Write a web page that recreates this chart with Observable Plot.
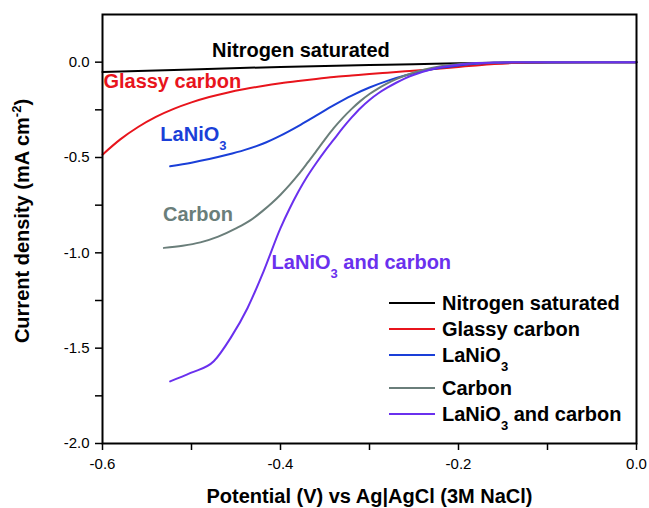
<!DOCTYPE html>
<html>
<head>
<meta charset="utf-8">
<script src="https://cdn.jsdelivr.net/npm/d3@7"></script>
<script src="https://cdn.jsdelivr.net/npm/@observablehq/plot@0.6"></script>
<style>
  html, body { margin: 0; padding: 0; background: #fff; }
  #chart { position: relative; width: 649px; height: 508px; }
  svg { font-family: "Liberation Sans", Arial, sans-serif; }
</style>
</head>
<body>
<div id="chart"></div>
<script>
// ---- Data ----
const seriesNames = ["Nitrogen saturated", "Glassy carbon", "LaNiO3", "Carbon", "LaNiO3 and carbon"];
const seriesColors = ["#000000", "#e8141c", "#1a3fd8", "#6a7e7a", "#6a30ee"];

const nitrogenX = [-0.6, -0.5, -0.4, -0.3, -0.25, -0.2, -0.1, 0.0];
const nitrogenY = [-0.052, -0.038, -0.025, -0.015, -0.011, -0.006, -0.002, 0.0];

const glassyX = [-0.6, -0.58, -0.56, -0.54, -0.52, -0.50, -0.48, -0.46, -0.44, -0.42, -0.40, -0.38, -0.36, -0.34, -0.32, -0.30, -0.28, -0.26, -0.24, -0.22, -0.20, -0.18, -0.16, -0.14, -0.12, -0.10, 0.0];
const glassyY = [-0.485, -0.405, -0.34, -0.287, -0.245, -0.211, -0.183, -0.16, -0.141, -0.125, -0.111, -0.099, -0.088, -0.078, -0.07, -0.062, -0.055, -0.048, -0.041, -0.033, -0.025, -0.017, -0.01, -0.005, -0.002, 0.0, 0.0];

const lanioX = [-0.524, -0.50, -0.48, -0.46, -0.44, -0.42, -0.40, -0.38, -0.36, -0.34, -0.32, -0.30, -0.28, -0.26, -0.24, -0.22, -0.20, -0.18, -0.16, -0.14, -0.12, 0.0];
const lanioY = [-0.546, -0.527, -0.508, -0.486, -0.46, -0.428, -0.385, -0.335, -0.28, -0.225, -0.175, -0.133, -0.098, -0.07, -0.047, -0.03, -0.017, -0.008, -0.003, -0.001, 0.0, 0.0];

const carbonX = [-0.531, -0.51, -0.49, -0.47, -0.45, -0.434, -0.42, -0.41, -0.40, -0.39, -0.38, -0.37, -0.36, -0.35, -0.34, -0.33, -0.32, -0.31, -0.30, -0.29, -0.28, -0.27, -0.26, -0.25, -0.24, -0.22, -0.20, -0.18, -0.15, -0.12, 0.0];
const carbonY = [-0.974, -0.963, -0.945, -0.915, -0.872, -0.83, -0.78, -0.74, -0.695, -0.645, -0.59, -0.53, -0.468, -0.405, -0.345, -0.292, -0.245, -0.203, -0.167, -0.137, -0.111, -0.089, -0.07, -0.054, -0.041, -0.022, -0.011, -0.004, -0.001, 0.0, 0.0];

const mixX = [-0.524, -0.501, -0.475, -0.456, -0.437, -0.419, -0.40, -0.39, -0.38, -0.37, -0.36, -0.35, -0.34, -0.33, -0.32, -0.31, -0.30, -0.29, -0.28, -0.27, -0.26, -0.25, -0.24, -0.23, -0.22, -0.20, -0.18, -0.16, -0.14, 0.0];
const mixY = [-1.674, -1.630, -1.569, -1.446, -1.289, -1.097, -0.87, -0.77, -0.68, -0.60, -0.53, -0.465, -0.405, -0.345, -0.29, -0.24, -0.198, -0.163, -0.134, -0.108, -0.085, -0.066, -0.05, -0.037, -0.027, -0.013, -0.005, -0.002, 0.0, 0.0];

const xMajorTicks = [-0.6, -0.4, -0.2, 0.0];
const xMinorTicks = [-0.5, -0.3, -0.1];
const yMajorTicks = [-2.0, -1.5, -1.0, -0.5, 0.0];
const yMinorTicks = [-1.75, -1.25, -0.75, -0.25];

// curve annotation labels
const labelText = ["Nitrogen saturated", "Glassy carbon", "LaNiO3", "Carbon", "LaNiO3 and carbon"];
const labelX = [-0.477, -0.599, -0.535, -0.532, -0.410];
const labelY = [0.063, -0.10, -0.378, -0.80, -1.053];

const xLabel = "Potential (V) vs Ag|AgCl (3M NaCl)";
const yLabel = "Current density (mA cm-2)";

// ---- Build tidy table ----
const pairs = [[nitrogenX, nitrogenY], [glassyX, glassyY], [lanioX, lanioY], [carbonX, carbonY], [mixX, mixY]];
const rows = [];
pairs.forEach(([xs, ys], i) => xs.forEach((x, j) => rows.push({series: seriesNames[i], x, y: ys[j]})));
const labels = labelText.map((t, i) => ({t, x: labelX[i], y: labelY[i], c: seriesColors[i]}));

const fmt = d => d.toFixed(1);

const plot = Plot.plot({
  width: 649,
  height: 508,
  marginLeft: 102,
  marginRight: 13,
  marginTop: 14,
  marginBottom: 65,
  style: {fontFamily: "'Liberation Sans', Arial, sans-serif", background: "#fff", color: "#000"},
  x: {domain: [-0.6, 0.0]},
  y: {domain: [-2.0, 0.25]},
  color: {domain: seriesNames, range: seriesColors},
  marks: [
    Plot.axisX(xMajorTicks, {tickSize: 7, tickPadding: 8, tickFormat: fmt, fontSize: 15, strokeWidth: 1.5, label: null}),
    Plot.axisX(xMinorTicks, {tickSize: 7, tickFormat: () => "", strokeWidth: 1.5, label: null}),
    Plot.axisY(yMajorTicks, {tickSize: 7, tickPadding: 6, tickFormat: fmt, fontSize: 15, strokeWidth: 1.5, label: null}),
    Plot.axisY(yMinorTicks, {tickSize: 7, tickFormat: () => "", strokeWidth: 1.5, label: null}),
    Plot.line(rows, {x: "x", y: "y", z: "series", stroke: "series", strokeWidth: 2, curve: "monotone-x"}),
    Plot.text(labels, {x: "x", y: "y", text: "t", fill: "c", textAnchor: "start", fontSize: 20, fontWeight: "bold"}),
    Plot.frame({stroke: "#000", strokeWidth: 2}),
    Plot.text([xLabel], {frameAnchor: "bottom", dx: 0, dy: 59, fontSize: 20, fontWeight: "bold", fill: "#000"}),
    Plot.text([yLabel], {frameAnchor: "left", textAnchor: "middle", rotate: -90, dx: -80, dy: -8, fontSize: 20, fontWeight: "bold", fill: "#000"})
  ]
});

const svg = d3.select(plot);

// ---- Legend inside the plot area ----
const legendTop = 303, legendStep = 26, legendSubExtra = 7;
const lg = svg.append("g").attr("font-size", 20).attr("font-weight", "bold").attr("text-anchor", "start");
let ly = legendTop;
seriesNames.forEach((name, i) => {
  lg.append("line").attr("x1", 389).attr("x2", 435).attr("y1", ly).attr("y2", ly)
    .attr("stroke", seriesColors[i]).attr("stroke-width", 2);
  lg.append("text").attr("x", 442).attr("y", ly).attr("dy", "0.35em").attr("fill", "#000").text(name);
  ly += legendStep + (i === 2 ? legendSubExtra : 0);
});

// ---- Sub/superscripts ----
const NS = "http://www.w3.org/2000/svg";
function tspan(parent, text, attrs) {
  const t = document.createElementNS(NS, "tspan");
  t.textContent = text;
  for (const k in attrs) t.setAttribute(k, attrs[k]);
  parent.appendChild(t);
}
svg.selectAll("text").each(function() {
  const el = this;
  const txt = el.textContent;
  if (el.children.length) return;
  if (txt.includes("LaNiO3")) {
    const rest = txt.split("LaNiO3")[1];
    el.textContent = "";
    tspan(el, "LaNiO", {});
    tspan(el, "3", {dy: "9", "font-size": "13"});
    if (rest) tspan(el, rest, {dy: "-9"});
  } else if (txt.includes("cm-2")) {
    const [pre, post] = txt.split("-2");
    el.textContent = "";
    tspan(el, pre, {});
    tspan(el, "-2", {dy: "-8", "font-size": "13"});
    tspan(el, post, {dy: "8"});
  }
});

document.getElementById("chart").appendChild(plot);
</script>
</body>
</html>
